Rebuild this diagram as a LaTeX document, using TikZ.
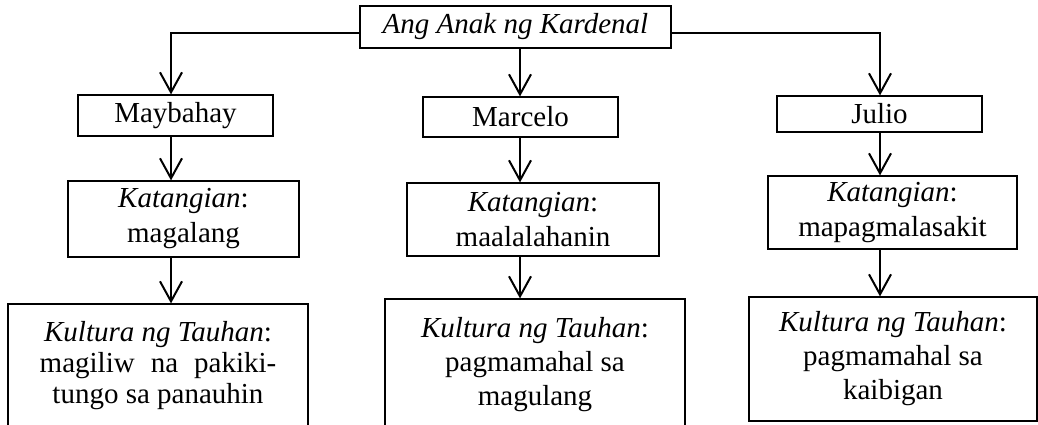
\documentclass[tikz,border=0pt]{standalone}
\usepackage{fontspec}
\setmainfont{Liberation Serif}
\usetikzlibrary{
  arrows.meta
}

\begin{document}
\begin{tikzpicture}[
    x=0.5pt,
    y=-0.5pt,
    box/.style={draw,line width=0.6pt,inner sep=0pt,align=center,
      font=\fontsize{14.5}{17.5}\selectfont},
    kultura/.style={box,font=\fontsize{14.5}{17}\selectfont},
    arr/.style={line width=1pt,-{Straight Barb[length=10pt,width=11pt]}},
  ]
  \useasboundingbox (0,0) rectangle (1038,424);
  \coordinate (colL) at (171,0);
  \coordinate (colM) at (520,0);
  \coordinate (colR) at (880,0);

  \node[box,minimum width=155.5pt,minimum height=21pt] (anak) at (515.5,27) {\textit{Ang Anak ng Kardenal}};

  \node[box,minimum width=97.5pt,minimum height=20.5pt] (maybahay) at (175.5,115.5) {Maybahay};
  \node[box,minimum width=97.5pt,minimum height=20pt] (marcelo) at (520.5,117) {Marcelo};
  \node[box,minimum width=102.5pt,minimum height=18pt] (julio) at (879.5,114) {Julio};

  \node[box,minimum width=115.5pt,minimum height=38pt] (katMaybahay) at (183.5,219) {\textit{Katangian}:\\ magalang};
  \node[box,minimum width=126pt,minimum height=36.5pt] (katMarcelo) at (533,219.5) {\textit{Katangian}:\\ maalalahanin};
  \node[box,minimum width=124.5pt,minimum height=36.5pt] (katJulio) at (892.5,212.5) {\textit{Katangian}:\\ mapagmalasakit};

  \node[kultura,font=\fontsize{14.5}{15.5}\selectfont,minimum width=150pt,minimum height=62pt] (kulMaybahay) at (158,366) {\textit{Kultura ng Tauhan}:\\ magiliw\hskip 8pt na\hskip 8pt pakiki-\\ tungo sa panauhin};
  \node[kultura,minimum width=150pt,minimum height=65.5pt] (kulMarcelo) at (535,364.5) {\textit{Kultura ng Tauhan}:\\ pagmamahal sa\\ magulang};
  \node[kultura,minimum width=144pt,minimum height=62pt] (kulJulio) at (893,359) {\textit{Kultura ng Tauhan}:\\ pagmamahal sa\\ kaibigan};

  \draw[arr] ([yshift=-3pt]anak.west) -| (colL |- maybahay.north);
  \draw[arr] (anak.south -| colM) -- (colM |- marcelo.north);
  \draw[arr] ([yshift=-3pt]anak.east) -| (colR |- julio.north);

  \draw[arr] (maybahay.south -| colL) -- (colL |- katMaybahay.north);
  \draw[arr] (marcelo.south -| colM) -- (colM |- katMarcelo.north);
  \draw[arr] (julio.south -| colR) -- (colR |- katJulio.north);

  \draw[arr] (katMaybahay.south -| colL) -- (colL |- kulMaybahay.north);
  \draw[arr] (katMarcelo.south -| colM) -- (colM |- kulMarcelo.north);
  \draw[arr] (katJulio.south -| colR) -- (colR |- kulJulio.north);
\end{tikzpicture}
\end{document}
